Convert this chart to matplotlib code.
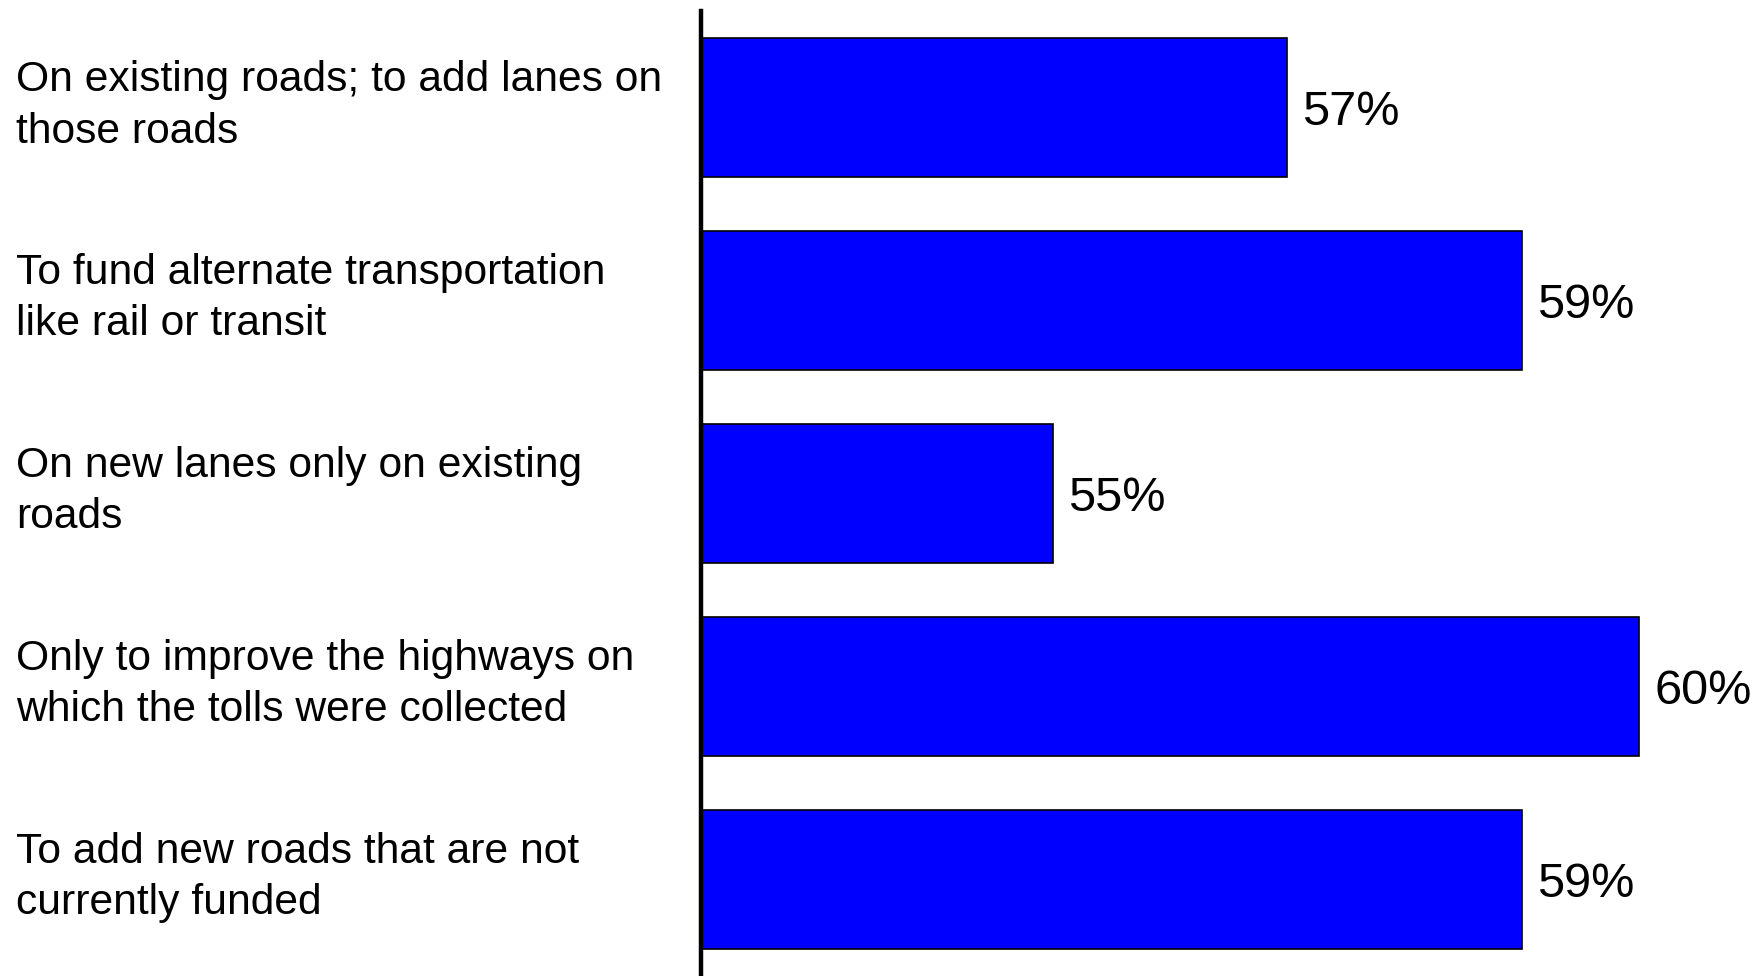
import matplotlib.pyplot as plt
from matplotlib.transforms import blended_transform_factory

# Survey: how toll revenue should be used
labels = [
    "On existing roads; to add lanes on\nthose roads",
    "To fund alternate transportation\nlike rail or transit",
    "On new lanes only on existing\nroads",
    "Only to improve the highways on\nwhich the tolls were collected",
    "To add new roads that are not\ncurrently funded",
]
values = [57, 59, 55, 60, 59]

plt.rcParams['font.family'] = ['Liberation Sans', 'DejaVu Sans']

fig = plt.figure(figsize=(17.56, 9.76), dpi=100)
ax = fig.add_axes([0.3992, 0.0, 0.6008, 0.9885])

pos = range(len(values))
ax.barh(pos, values, height=0.72, left=0, color='#0000ff',
        edgecolor='black', linewidth=1.2)
ax.set_xlim(52, 61)
ax.set_ylim(4.5, -0.5)

for i, v in enumerate(values):
    ax.text(v + 0.13, i, f"{v}%", va='center_baseline', ha='left', fontsize=35)

trans = blended_transform_factory(fig.transFigure, ax.transData)
for i, lab in enumerate(labels):
    ax.text(16 / 1756, i - 0.01, lab, transform=trans, va='center', ha='left',
            fontsize=30.7, linespacing=1.37)

for s in ['top', 'right', 'bottom']:
    ax.spines[s].set_visible(False)
ax.spines['left'].set_linewidth(3.2)
ax.set_xticks([])
ax.set_yticks([])

fig.savefig('out.png', dpi=100)
